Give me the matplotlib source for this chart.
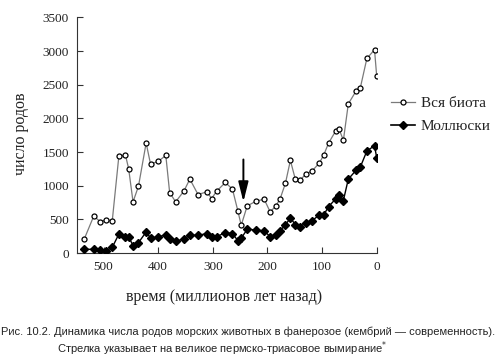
import matplotlib
matplotlib.use("Agg")
import matplotlib.pyplot as plt
from matplotlib.lines import Line2D
from matplotlib import font_manager

# time (million years ago)
times = [535, 518, 506, 495, 484, 472, 460, 454, 446, 436,
         422, 414, 400, 386, 379, 368, 353, 342, 327, 311,
         302, 293, 277, 264, 254, 248, 237, 221, 206, 195,
         185, 177, 167, 158, 149, 140, 130, 118, 105, 97,
         88, 75, 69, 61, 52, 38, 30, 18, 4, 0]

all_biota = [213, 547, 467, 492, 481, 1435, 1460, 1252, 760, 994,
             1635, 1322, 1361, 1450, 899, 760, 919, 1098, 869, 909,
             810, 919, 1048, 949, 621, 412, 700, 770, 800, 611,
             696, 800, 1038, 1376, 1098, 1083, 1173, 1222, 1337, 1456,
             1635, 1815, 1845, 1674, 2216, 2404, 2454, 2891, 3021, 2627]

molluscs = [55, 55, 40, 35, 85, 279, 243, 243, 109, 154,
            313, 224, 238, 273, 204, 174, 209, 264, 264, 288,
            243, 243, 303, 288, 183, 219, 353, 343, 328, 243,
            273, 333, 417, 522, 422, 387, 452, 482, 566, 566,
            690, 805, 869, 780, 1098, 1227, 1277, 1516, 1595, 1416]

x_ticks = [500, 400, 300, 200, 100, 0]
y_ticks = [0, 500, 1000, 1500, 2000, 2500, 3000, 3500]

series_labels = ["Вся биота", "Моллюски"]
x_label = "время (миллионов лет назад)"
y_label = "число родов"
caption1 = "Рис. 10.2. Динамика числа родов морских животных в фанерозое (кембрий — современность)."
caption2 = "Стрелка указывает на великое пермско-триасовое вымирание$^{*}$"

extinction_time = 244
arrow_top, arrow_tip = 1390, 760

serif = ["Liberation Serif", "DejaVu Serif"]
available = {f.name for f in font_manager.fontManager.ttflist}
narrow = [f for f in ["Liberation Sans Narrow", "Liberation Sans", "DejaVu Sans"]
          if f in available] or ["DejaVu Sans"]

fig = plt.figure(figsize=(5.01, 3.60), dpi=100)
ax = fig.add_axes([0.1543, 0.2972, 0.5976, 0.6542])

ax.plot(times, all_biota, color="#7a7a7a", lw=0.9, marker="o", ms=3.6,
        mfc="white", mec="black", mew=0.9, zorder=3)
ax.plot(times, molluscs, color="black", lw=1.0, marker="D", ms=3.6,
        mfc="black", mec="black", zorder=3)

ax.set_xlim(548, 0)
ax.set_ylim(0, 3500)
ax.set_xticks(x_ticks)
ax.set_yticks(y_ticks)
for s in ("top", "right"):
    ax.spines[s].set_visible(False)
ax.spines["left"].set_color("#333333")
ax.spines["bottom"].set_color("#333333")
ax.tick_params(direction="in", length=4, width=0.8, color="#333333", pad=6)
for lab in ax.get_xticklabels() + ax.get_yticklabels():
    lab.set_family(serif)
    lab.set_fontsize(9.5)
    lab.set_color("#222222")

ax.set_xlabel(x_label, family=serif, fontsize=11.5, color="#222222")
ax.set_ylabel(y_label, family=serif, fontsize=11.5, color="#222222")
ax.xaxis.set_label_coords(0.49, -0.153)
ax.yaxis.set_label_coords(-0.161, 0.505)

ax.annotate("", xy=(extinction_time, arrow_tip), xytext=(extinction_time, arrow_top),
            arrowprops=dict(arrowstyle="-|>,head_width=0.3,head_length=1.2",
                            color="black", lw=1.4, mutation_scale=10,
                            shrinkA=0, shrinkB=0))

handles = [
    Line2D([], [], color="#7a7a7a", lw=0.9, marker="o", ms=3.6, mfc="white",
           mec="black", mew=0.9),
    Line2D([], [], color="black", lw=1.2, marker="D", ms=3.6, mfc="black",
           mec="black"),
]
leg = fig.legend(handles, series_labels, loc="center left",
                 bbox_to_anchor=(391 / 501, 1 - 115 / 360),
                 frameon=False, borderpad=0, borderaxespad=0,
                 handlelength=1.6, handletextpad=0.35, labelspacing=0.6,
                 prop={"family": serif, "size": 11})
for t in leg.get_texts():
    t.set_color("#222222")

size = 10
c1 = fig.text(0.002, 1 - 332 / 360, caption1, family=narrow, fontsize=size,
              va="center", ha="left", color="#222222")
c2 = fig.text(57 / 501, 1 - 349 / 360, caption2, family=narrow, fontsize=size,
              va="center", ha="left", color="#222222")
renderer = fig.canvas.get_renderer()
while c1.get_window_extent(renderer).width > 497 and size > 6:
    size -= 0.1
    c1.set_fontsize(size)
    c2.set_fontsize(size)

fig.savefig("out.png", dpi=100)
